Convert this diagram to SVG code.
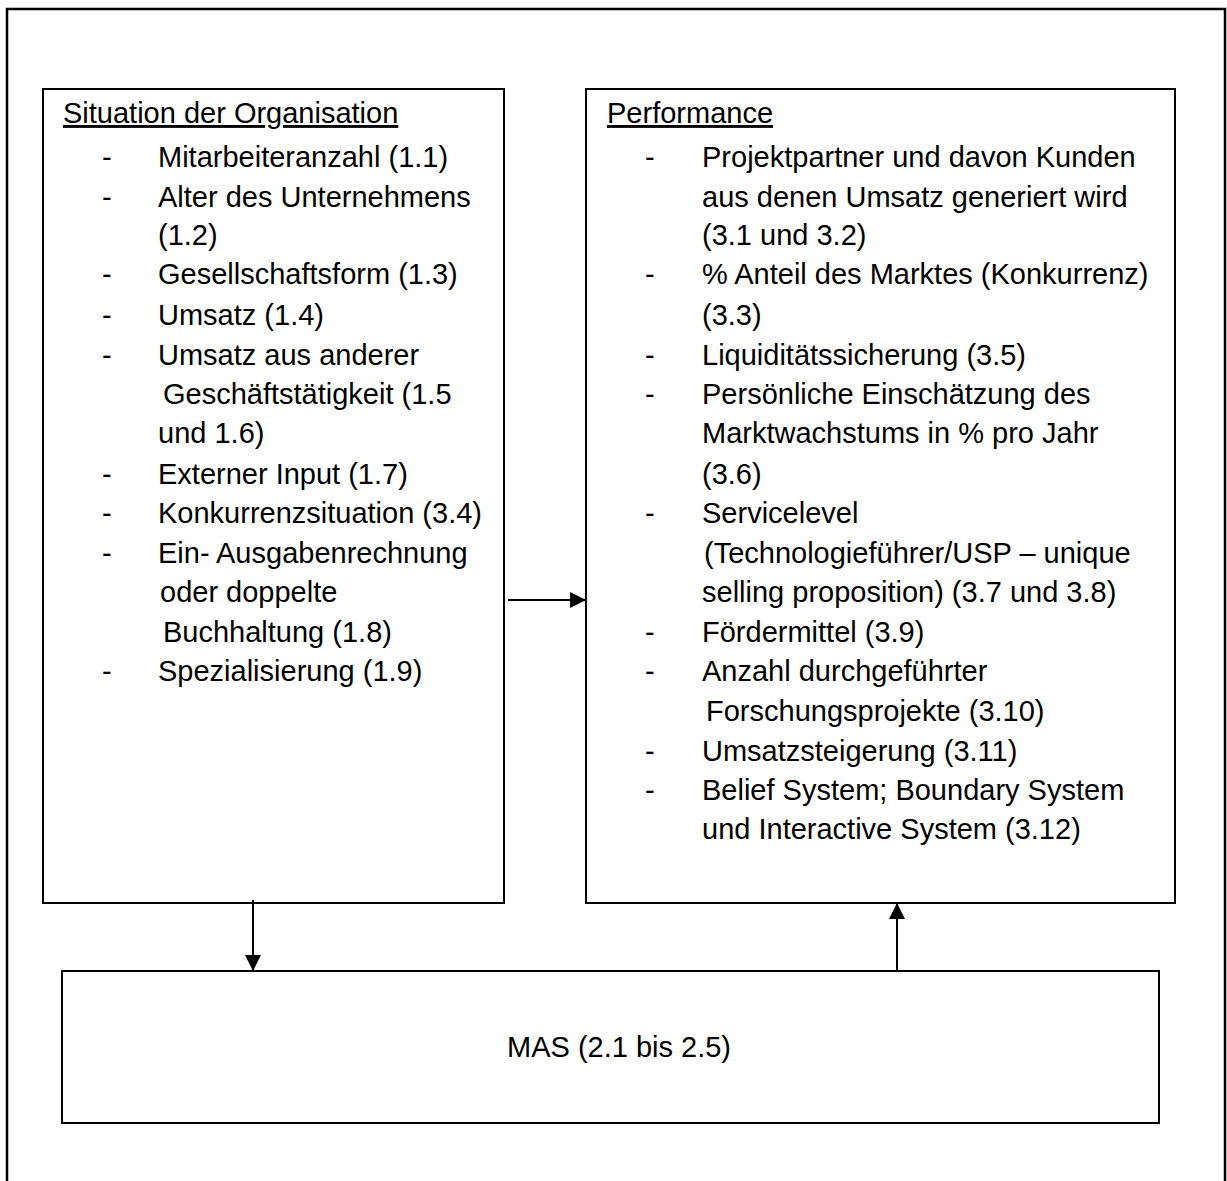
<svg xmlns="http://www.w3.org/2000/svg" width="1227" height="1181" viewBox="0 0 1227 1181">
  <style>
    .frame { fill: none; stroke: #000; stroke-width: 2.5; }
    .box { fill: #fff; stroke: #000; stroke-width: 2; }
    .t { font-family: "Liberation Sans", Arial, sans-serif; font-size: 29px; fill: #000; }
    .h { text-decoration: underline; }
    .link { stroke: #000; stroke-width: 2; fill: none; marker-end: url(#arrow); }
  </style>
  <defs>
    <marker id="arrow" viewBox="0 0 10 10" refX="10" refY="5" markerUnits="userSpaceOnUse" markerWidth="17" markerHeight="16" orient="auto">
      <path d="M0,0 L10,5 L0,10 z" fill="#000"/>
    </marker>
  </defs>

  <rect width="1227" height="1181" fill="#fff"/>
  <rect class="frame" x="7" y="9" width="1218" height="1185"/>

  <g id="situation">
    <rect class="box" x="43" y="89" width="461" height="814"/>
    <text class="t h" x="63" y="123">Situation der Organisation</text>
    <g class="t">
      <text x="102" y="167">-</text><text x="158" y="167">Mitarbeiteranzahl (1.1)</text>
      <text x="102" y="207">-</text><text x="158" y="207">Alter des Unternehmens</text>
      <text x="158" y="245">(1.2)</text>
      <text x="102" y="284">-</text><text x="158" y="284">Gesellschaftsform (1.3)</text>
      <text x="102" y="325">-</text><text x="158" y="325">Umsatz (1.4)</text>
      <text x="102" y="365">-</text><text x="158" y="365">Umsatz aus anderer</text>
      <text x="163" y="404">Geschäftstätigkeit (1.5</text>
      <text x="158" y="443">und 1.6)</text>
      <text x="102" y="484">-</text><text x="158" y="484">Externer Input (1.7)</text>
      <text x="102" y="523">-</text><text x="158" y="523">Konkurrenzsituation (3.4)</text>
      <text x="102" y="563">-</text><text x="158" y="563">Ein- Ausgabenrechnung</text>
      <text x="160" y="602">oder doppelte</text>
      <text x="163" y="642">Buchhaltung (1.8)</text>
      <text x="102" y="681">-</text><text x="158" y="681">Spezialisierung (1.9)</text>
    </g>
  </g>

  <g id="performance">
    <rect class="box" x="586" y="89" width="589" height="814"/>
    <text class="t h" x="607" y="123">Performance</text>
    <g class="t">
      <text x="645" y="167">-</text><text x="702" y="167">Projektpartner und davon Kunden</text>
      <text x="702" y="207">aus denen Umsatz generiert wird</text>
      <text x="702" y="245">(3.1 und 3.2)</text>
      <text x="645" y="284">-</text><text x="702" y="284">% Anteil des Marktes (Konkurrenz)</text>
      <text x="702" y="325">(3.3)</text>
      <text x="645" y="365">-</text><text x="702" y="365">Liquiditätssicherung (3.5)</text>
      <text x="645" y="404">-</text><text x="702" y="404">Persönliche Einschätzung des</text>
      <text x="702" y="443">Marktwachstums in % pro Jahr</text>
      <text x="702" y="484">(3.6)</text>
      <text x="645" y="523">-</text><text x="702" y="523">Servicelevel</text>
      <text x="704" y="563">(Technologieführer/USP – unique</text>
      <text x="702" y="602">selling proposition) (3.7 und 3.8)</text>
      <text x="645" y="642">-</text><text x="702" y="642">Fördermittel (3.9)</text>
      <text x="645" y="681">-</text><text x="702" y="681">Anzahl durchgeführter</text>
      <text x="706" y="721">Forschungsprojekte (3.10)</text>
      <text x="645" y="761">-</text><text x="702" y="761">Umsatzsteigerung (3.11)</text>
      <text x="645" y="800">-</text><text x="702" y="800">Belief System; Boundary System</text>
      <text x="702" y="839">und Interactive System (3.12)</text>
    </g>
  </g>

  <g id="mas">
    <rect class="box" x="62" y="971" width="1097" height="152"/>
    <text class="t" x="619" y="1057" text-anchor="middle">MAS (2.1 bis 2.5)</text>
  </g>

  <g id="connectors">
    <line class="link" x1="508" y1="600" x2="586" y2="600"/>
    <line class="link" x1="253" y1="900" x2="253" y2="971"/>
    <line class="link" x1="897" y1="971" x2="897" y2="903"/>
  </g>
</svg>
